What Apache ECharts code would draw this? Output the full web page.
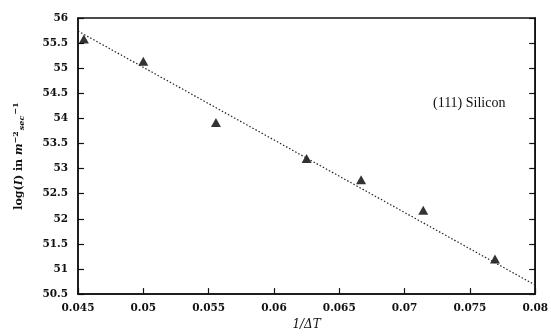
<!DOCTYPE html>
<html>
<head>
<meta charset="utf-8">
<script src="https://cdn.jsdelivr.net/npm/echarts@6/dist/echarts.min.js"></script>
<style>
html,body{margin:0;padding:0;background:#fff;}
#c{width:551px;height:336px;}
</style>
</head>
<body>
<div id="c"></div>
<script>
// data
var invDeltaT = [0.04545, 0.05, 0.05556, 0.0625, 0.06667, 0.07143, 0.07692];
var logI = [55.58, 55.14, 53.92, 53.2, 52.78, 52.17, 51.2];
var fitX = [0.045, 0.08];
var fitY = [55.74, 50.68];
var xTicks = [0.045, 0.05, 0.055, 0.06, 0.065, 0.07, 0.075, 0.08];
var yTicks = [50.5, 51, 51.5, 52, 52.5, 53, 53.5, 54, 54.5, 55, 55.5, 56];
var annotation = '(111) Silicon';

var FONT = 'DejaVu Serif';
var chart = echarts.init(document.getElementById('c'));
var pts = invDeltaT.map(function (x, i) { return [x, logI[i]]; });
var fit = fitX.map(function (x, i) { return [x, fitY[i]]; });

chart.setOption({
  animation: false,
  backgroundColor: '#fff',
  grid: { left: 78, right: 12, top: 18, bottom: 34, show: true, borderColor: '#111', borderWidth: 1.5 },
  xAxis: {
    type: 'value', min: xTicks[0], max: xTicks[xTicks.length - 1], interval: 0.005,
    axisLine: { lineStyle: { color: '#111', width: 1.5 } },
    axisTick: { inside: true, length: 6, lineStyle: { color: '#111', width: 1.2 } },
    splitLine: { show: false },
    axisLabel: { color: '#111', fontFamily: FONT, fontSize: 10.5, fontWeight: 'bold', margin: 9,
      formatter: function (v) { return String(+v.toFixed(3)); } },
    name: '1/\u0394T', nameLocation: 'middle', nameGap: 24,
    nameTextStyle: { color: '#111', fontFamily: FONT, fontSize: 12, fontStyle: 'italic' }
  },
  yAxis: [{
    type: 'value', min: yTicks[0], max: yTicks[yTicks.length - 1], interval: 0.5,
    axisLine: { lineStyle: { color: '#111', width: 1.5 } },
    axisTick: { inside: true, length: 6, lineStyle: { color: '#111', width: 1.2 } },
    splitLine: { show: false },
    axisLabel: { color: '#111', fontFamily: FONT, fontSize: 10.5, fontWeight: 'bold', margin: 10,
      formatter: function (v) { return String(+v.toFixed(1)); } },
    name: '{n|log(}{i|I}{n|) in }{i|m}{sup|\u22122}{sub|sec}{sup|\u22121}',
    nameLocation: 'middle', nameRotate: 90, nameGap: 52,
    nameTextStyle: {
      color: '#111', fontFamily: FONT, fontSize: 11,
      rich: {
        n: { fontFamily: FONT, fontSize: 11, fontWeight: 'bold', color: '#111' },
        i: { fontFamily: FONT, fontSize: 11, fontWeight: 'bold', fontStyle: 'italic', color: '#111' },
        sup: { fontFamily: FONT, fontSize: 8, fontWeight: 'bold', color: '#111', verticalAlign: 'top', padding: [0, 0, 6, 0] },
        sub: { fontFamily: FONT, fontSize: 8, fontWeight: 'bold', fontStyle: 'italic', color: '#111', verticalAlign: 'bottom', padding: [4, 1, 0, 1] }
      }
    }
  }, {
    type: 'value', position: 'right', min: yTicks[0], max: yTicks[yTicks.length - 1], interval: 0.5,
    axisLine: { show: true, lineStyle: { color: '#111', width: 1.5 } },
    axisTick: { show: true, inside: true, length: 6, lineStyle: { color: '#111', width: 1.2 } },
    axisLabel: { show: false }, splitLine: { show: false }
  }],
  series: [{
    type: 'line', data: fit, symbol: 'none', silent: true,
    lineStyle: { color: '#222', width: 1.2, type: [1.5, 2] }
  }, {
    type: 'scatter', data: pts, symbol: 'triangle', symbolSize: [10, 9],
    itemStyle: { color: '#000' }
  }],
  graphic: [{
    type: 'text', left: 433, top: 96,
    style: { text: annotation, fontFamily: 'Liberation Serif', fontSize: 14, fill: '#111' }
  }]
});
</script>
</body>
</html>
